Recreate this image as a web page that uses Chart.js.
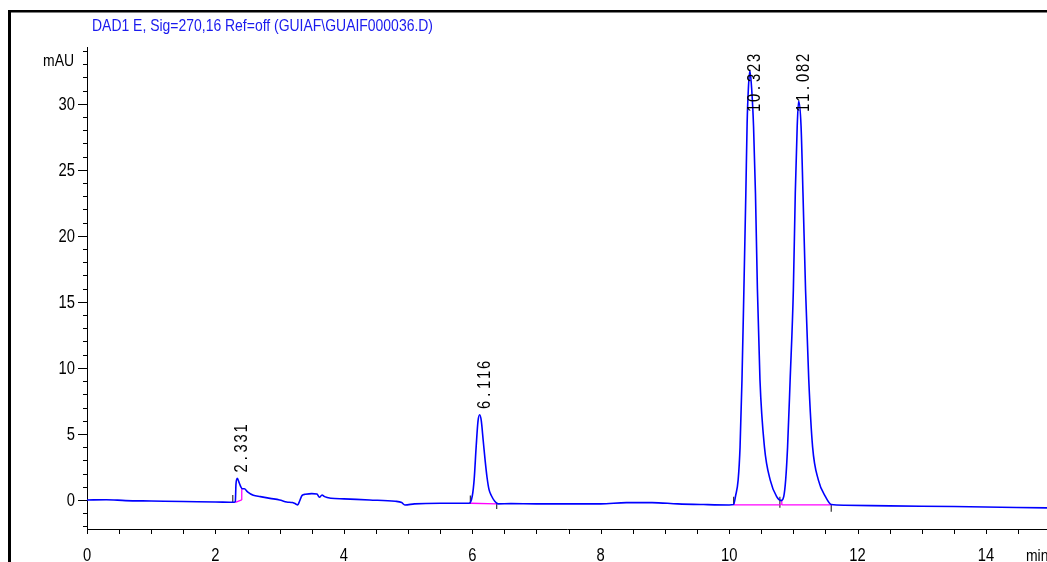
<!DOCTYPE html>
<html lang="en">
<head>
  <meta charset="UTF-8">
  <title>DAD1 E chromatogram</title>
  <script src="https://cdn.jsdelivr.net/npm/chart.js@4.4.1/dist/chart.umd.min.js"></script>
  <style>
    body { margin: 0; background: #fff; }
  </style>
</head>
<body>
<canvas id="chart" width="1047" height="562"></canvas>

<script>
// signal: retention time (min) and absorbance (mAU)
const times = [0, 0.3, 0.6, 1.0, 1.5, 2.0, 2.29, 2.31, 2.32, 2.34, 2.37, 2.40, 2.42, 2.45, 2.5, 2.59, 2.7, 2.85,
  3.0, 3.11, 3.2, 3.25, 3.28, 3.31, 3.35, 3.4, 3.5, 3.58, 3.62, 3.66, 3.7, 3.8, 4.0, 4.4, 4.8, 4.9, 4.95, 5.1, 5.5,
  5.95, 6.0, 6.03, 6.06, 6.09, 6.116, 6.14, 6.17, 6.2, 6.23, 6.26, 6.3, 6.35, 6.4, 6.6, 7.0, 7.5, 8.0, 8.4, 8.8,
  9.2, 9.6, 10.0, 10.07, 10.1, 10.14, 10.17, 10.2, 10.23, 10.26, 10.28, 10.30, 10.323, 10.35, 10.38, 10.41, 10.44, 10.48,
  10.55, 10.64, 10.74, 10.81, 10.85, 10.88, 10.91, 10.95, 11.0, 11.03, 11.06, 11.082, 11.12, 11.15, 11.19, 11.24,
  11.3, 11.39, 11.5, 11.59, 11.8, 12.5, 13.5, 14.95];
const mAU = [0.0, 0.02, -0.05, -0.08, -0.12, -0.15, -0.18, -0.1, 1.2, 1.64, 1.3, 0.95, 0.85, 0.85, 0.62, 0.35, 0.25, 0.12,
  0.0, -0.15, -0.2, -0.3, -0.38, -0.1, 0.35, 0.43, 0.48, 0.45, 0.2, 0.38, 0.25, 0.13, 0.08, 0.0, -0.1, -0.2, -0.38, -0.3, -0.25,
  -0.25, 0.3, 1.6, 4.0, 6.0, 6.45, 6.0, 4.5, 3.0, 1.7, 0.8, 0.3, -0.1, -0.3, -0.28, -0.3, -0.3, -0.3, -0.2, -0.2,
  -0.3, -0.35, -0.38, -0.35, 0.3, 1.5, 4.0, 9.1, 16.0, 23.2, 28.5, 31.2, 32.5, 31.2, 28.3, 23.2, 16.0, 9.1,
  4.0, 1.5, 0.25, -0.05, 0.25, 1.5, 4.0, 9.1, 15.9, 23.2, 28.3, 30.2, 28.3, 23.2, 15.9, 9.1,
  4.0, 1.5, 0.25, -0.35, -0.4, -0.45, -0.5, -0.6];

const peakRT = [2.331, 6.116, 10.323, 11.082];
const peakTop = [1.64, 6.45, 32.5, 30.2];
const peakNames = ['2.331', '6.116', '10.323', '11.082'];

// integration baselines: [t0, y0, t1, y1]
const baselines = [[2.31, -0.18, 2.41, 0.0], [2.41, 0.0, 2.41, 0.9], [5.97, -0.25, 6.38, -0.3],
  [10.07, -0.38, 10.81, -0.38], [10.82, -0.38, 10.82, -0.05], [10.82, -0.38, 11.59, -0.38]];
// peak start / end markers: [t, yLow, yHigh]
const eventMarks = [[2.27, -0.15, 0.38], [5.97, -0.3, 0.33], [6.38, -0.68, -0.18],
  [10.07, -0.38, 0.25], [10.79, -0.6, 0.25], [11.59, -0.9, -0.38]];

const xLabels = [0, 2, 4, 6, 8, 10, 12, 14];
const yLabels = [0, 5, 10, 15, 20, 25, 30];

const FONT = "'Liberation Sans', Arial, sans-serif";
const NARROW = 0.82; // Arial Narrow look: squeeze Liberation Sans horizontally

function narrowText(ctx, str, x, y, align, baseline, sx) {
  ctx.save();
  ctx.translate(x, y);
  ctx.scale(sx || NARROW, 1);
  ctx.textAlign = align;
  ctx.textBaseline = baseline;
  ctx.fillText(str, 0, 0);
  ctx.restore();
}

const datasets = [{
  data: times.map((t, i) => ({ x: t, y: mAU[i] })),
  borderColor: '#0000ff',
  borderWidth: 1.6,
  pointRadius: 0,
  cubicInterpolationMode: 'monotone',
  order: 1
}];
baselines.forEach(b => datasets.push({
  data: [{ x: b[0], y: b[1] }, { x: b[2], y: b[3] }],
  borderColor: '#ff00ff', borderWidth: 1.3, pointRadius: 0, order: 2
}));
eventMarks.forEach(m => datasets.push({
  data: [{ x: m[0], y: m[1] }, { x: m[0], y: m[2] }],
  borderColor: '#333333', borderWidth: 1.2, pointRadius: 0, order: 3
}));

const decor = {
  id: 'decor',
  beforeDraw(chart) {
    const ctx = chart.ctx;
    ctx.save();
    ctx.fillStyle = '#fff';
    ctx.fillRect(0, 0, chart.width, chart.height);
    ctx.fillStyle = '#000';
    ctx.fillRect(8, 10, chart.width - 8, 2.5);
    ctx.fillRect(8, 10, 3, chart.height);
    ctx.restore();
  },
  afterDraw(chart) {
    const ctx = chart.ctx;
    const xs = chart.scales.x, ys = chart.scales.y;
    const area = chart.chartArea;
    ctx.save();
    ctx.strokeStyle = '#000';
    ctx.fillStyle = '#000';
    ctx.lineWidth = 1;
    ctx.font = '18px ' + FONT;
    // y ticks every 1 mAU, labels every 5
    for (let v = -2; v <= 34; v++) {
      const py = Math.round(ys.getPixelForValue(v)) + 0.5;
      const len = v % 5 === 0 ? 9 : 4;
      ctx.beginPath();
      ctx.moveTo(area.left - len, py);
      ctx.lineTo(area.left, py);
      ctx.stroke();
    }
    yLabels.forEach(v => narrowText(ctx, String(v), area.left - 12, ys.getPixelForValue(v) + 1, 'right', 'middle'));
    // x ticks every 0.5 min, labels every 2
    for (let v = 0; v <= 14.5; v += 0.5) {
      const px = Math.round(xs.getPixelForValue(v)) + 0.5;
      ctx.beginPath();
      ctx.moveTo(px, area.bottom);
      ctx.lineTo(px, area.bottom + 5);
      ctx.stroke();
    }
    xLabels.forEach(v => narrowText(ctx, String(v), xs.getPixelForValue(v), area.bottom + 32, 'center', 'alphabetic'));
    ctx.font = '17px ' + FONT;
    narrowText(ctx, 'mAU', 74, 61, 'right', 'middle');
    narrowText(ctx, 'min', 1026, 561, 'left', 'alphabetic');
    // title, squeezed to the width it has on the original
    ctx.fillStyle = '#1a1aee';
    ctx.font = '17px ' + FONT;
    const title = 'DAD1 E, Sig=270,16 Ref=off (GUIAF\\GUAIF000036.D)';
    narrowText(ctx, title, 92, 26, 'left', 'middle', 341 / ctx.measureText(title).width);
    ctx.restore();
  },
  afterDatasetsDraw(chart) {
    const ctx = chart.ctx;
    const xs = chart.scales.x, ys = chart.scales.y;
    ctx.save();
    ctx.fillStyle = '#000';
    ctx.font = '18px ' + FONT;
    // peak retention time labels, rotated, one character per 10px cell
    peakRT.forEach((t, i) => {
      const name = peakNames[i];
      const px = xs.getPixelForValue(t) + 5;
      const len = name.length * 10;
      const bottom = Math.max(ys.getPixelForValue(peakTop[i]) - 6, 52 + len);
      ctx.save();
      ctx.translate(px, bottom);
      ctx.rotate(-Math.PI / 2);
      for (let k = 0; k < name.length; k++) {
        narrowText(ctx, name[k], k * 10 + 4, 0, 'center', 'middle');
      }
      ctx.restore();
    });
    ctx.restore();
  }
};

new Chart(document.getElementById('chart'), {
  type: 'line',
  data: { datasets },
  options: {
    responsive: false,
    animation: false,
    layout: { padding: { top: 47, left: 0, right: 0, bottom: 0 } },
    plugins: { legend: { display: false }, tooltip: { enabled: false } },
    scales: {
      x: {
        type: 'linear', min: 0, max: 14.95,
        afterFit: s => { s.height = 33; },
        grid: { display: false, drawTicks: false },
        border: { display: true, color: '#000', width: 1 },
        ticks: { display: false }
      },
      y: {
        type: 'linear', min: -2.2, max: 34.3,
        afterFit: s => { s.width = 87; },
        grid: { display: false, drawTicks: false },
        border: { display: true, color: '#000', width: 1 },
        ticks: { display: false }
      }
    }
  },
  plugins: [decor]
});
</script>
</body>
</html>
